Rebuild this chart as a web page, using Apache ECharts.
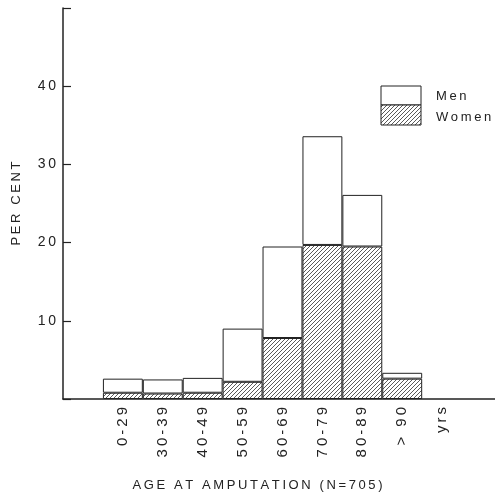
<!DOCTYPE html>
<html>
<head>
<meta charset="utf-8">
<script src="https://cdn.jsdelivr.net/npm/echarts@6/dist/echarts.min.js"></script>
<style>html,body{margin:0;padding:0;background:#fff;overflow:hidden;}#c{width:508px;height:497px;}</style>
</head>
<body>
<div id="c"></div>
<script>
// Data (per cent of N=705)
const categories = ['', '0-29', '30-39', '40-49', '50-59', '60-69', '70-79', '80-89', '> 90', 'yrs', ''];
const womenValues = [null, 0.8, 0.7, 0.8, 2.2, 7.8, 19.7, 19.5, 2.6, null, null];
const menValues   = [null, 1.8, 1.8, 1.9, 6.8, 11.7, 13.9, 6.6, 0.75, null, null];
const yTicks = [10, 20, 30, 40];

const TS = '\u2009';
const spaced = s => s.split('').join(TS);

// hatch pattern
const pc = document.createElement('canvas');
pc.width = 4; pc.height = 4;
const g = pc.getContext('2d');
g.fillStyle = '#fff'; g.fillRect(0, 0, 4, 4);
g.strokeStyle = '#5a5a5a'; g.lineWidth = 1;
g.beginPath();
g.moveTo(-1, 5); g.lineTo(5, -1);
g.moveTo(-1, 1); g.lineTo(1, -1);
g.moveTo(3, 5); g.lineTo(5, 3);
g.stroke();
const hatch = { image: pc, repeat: 'repeat' };

const FONT = 'Liberation Sans';
const TXT = '#222';

const chart = echarts.init(document.getElementById('c'), null, { renderer: 'canvas' });
chart.setOption({
  backgroundColor: '#fff',
  animation: false,
  grid: { left: 63, top: 8, width: 439, bottom: 97, containLabel: false },
  xAxis: {
    type: 'category',
    data: categories,
    name: spaced('AGE AT AMPUTATION (N=705)'),
    nameLocation: 'middle',
    nameGap: 80,
    nameTextStyle: { fontFamily: FONT, fontSize: 13, color: TXT, padding: [0, 50, 0, 0] },
    axisLine: { show: true, lineStyle: { color: '#222', width: 1.5 } },
    axisTick: { show: false },
    axisLabel: {
      interval: 0, rotate: 90, margin: 8,
      fontFamily: FONT, fontSize: 15, color: TXT,
      formatter: v => spaced(v)
    },
    splitLine: { show: false }
  },
  yAxis: {
    type: 'value',
    min: 0, max: 50, interval: 10,
    name: spaced('PER CENT'),
    nameLocation: 'middle',
    nameGap: 40,
    nameRotate: 90,
    nameTextStyle: { fontFamily: FONT, fontSize: 13, color: TXT },
    axisLine: { show: true, lineStyle: { color: '#222', width: 1.5 } },
    axisTick: { show: true, inside: true, length: 8, lineStyle: { color: '#222', width: 1.2 } },
    axisLabel: {
      margin: 7, fontFamily: FONT, fontSize: 14, color: TXT,
      formatter: v => yTicks.indexOf(v) >= 0 ? spaced(String(v)) : ''
    },
    splitLine: { show: false }
  },
  series: [
    {
      name: 'Women', type: 'bar', stack: 'a', barWidth: '100%',
      data: womenValues,
      itemStyle: { color: hatch, borderColor: '#222', borderWidth: 1 }
    },
    {
      name: 'Men', type: 'bar', stack: 'a', barWidth: '100%',
      data: menValues,
      itemStyle: { color: '#fff', borderColor: '#222', borderWidth: 1 }
    }
  ],
  graphic: [
    { type: 'rect', shape: { x: 381, y: 86, width: 40, height: 19 }, style: { fill: '#fff', stroke: '#222', lineWidth: 1 } },
    { type: 'rect', shape: { x: 381, y: 105, width: 40, height: 20 }, style: { fill: hatch, stroke: '#222', lineWidth: 1 } },
    { type: 'text', x: 436, y: 96, style: { text: spaced('Men'), font: '13px "Liberation Sans"', fill: TXT, verticalAlign: 'middle' } },
    { type: 'text', x: 436, y: 117, style: { text: spaced('Women'), font: '13px "Liberation Sans"', fill: TXT, verticalAlign: 'middle' } }
  ]
});
</script>
</body>
</html>
